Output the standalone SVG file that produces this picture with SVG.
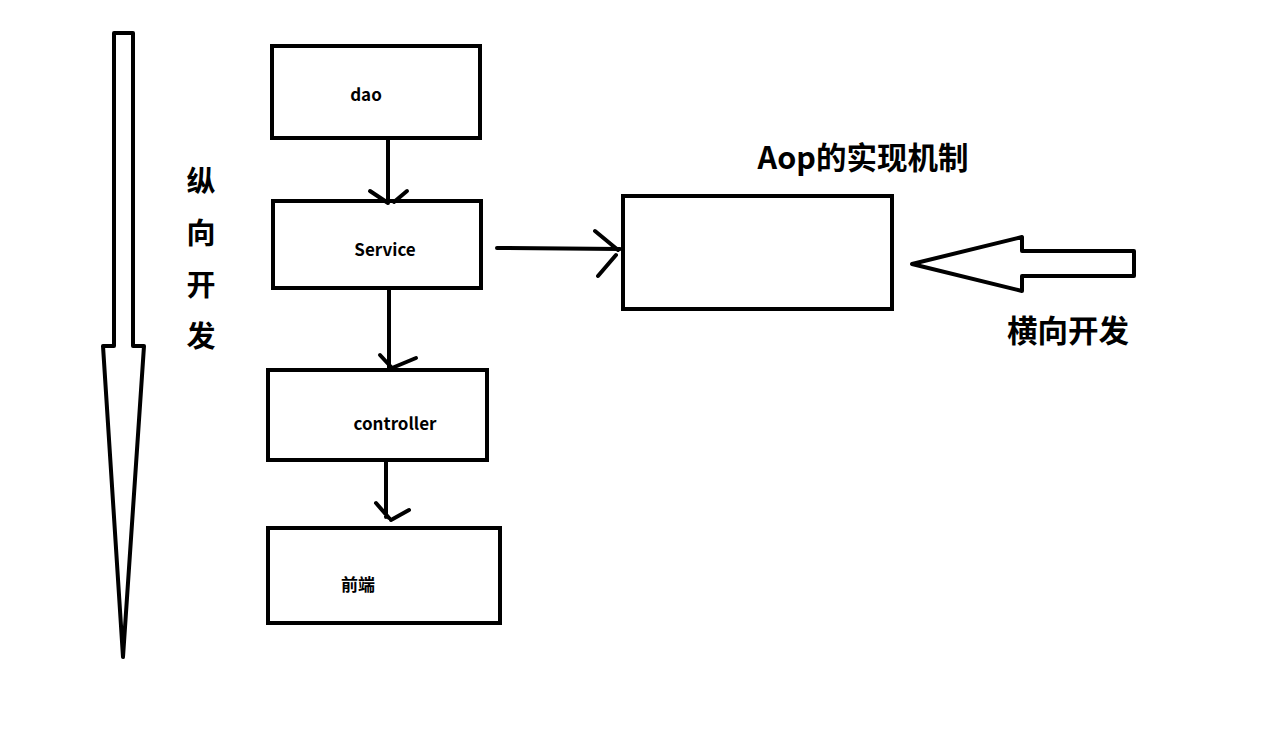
<svg xmlns="http://www.w3.org/2000/svg" width="1285" height="742" viewBox="0 0 1285 742">
<style>
.s{fill:none;stroke:#000;stroke-width:4;stroke-linecap:round;stroke-linejoin:round}
.b{fill:#fff;stroke:#000;stroke-width:4}
.t{font-family:"Noto Sans CJK SC","Noto Sans",sans-serif;font-weight:bold;fill:#000}
.l{font-size:17px}
.h{font-size:29px}
.a{font-size:30.5px}
</style>
<rect width="1285" height="742" fill="#fff"/>
<g id="vertical-arrow">
<polygon class="s" points="114,33 133,33 133,346 144,346 123,657 103,346 114,346"/>
</g>
<g id="vertical-label">
<text class="t h" x="201" y="192" text-anchor="middle">纵</text>
<text class="t h" x="201" y="244" text-anchor="middle">向</text>
<text class="t h" x="201" y="296" text-anchor="middle">开</text>
<text class="t h" x="201" y="347" text-anchor="middle">发</text>
</g>
<g id="dao">
<rect class="b" x="272" y="46" width="208" height="92"/>
<text class="t l" x="366" y="101" text-anchor="middle">dao</text>
</g>
<g id="service">
<rect class="b" x="273" y="201" width="208" height="87"/>
<text class="t l" x="385" y="256" text-anchor="middle">Service</text>
</g>
<g id="controller">
<rect class="b" x="268" y="370" width="219" height="90"/>
<text class="t l" x="395" y="430" text-anchor="middle">controller</text>
</g>
<g id="frontend">
<rect class="b" x="268" y="528" width="232" height="95"/>
<text class="t l" x="358" y="591" text-anchor="middle">前端</text>
</g>
<g id="aop">
<rect class="b" x="623" y="196" width="269" height="113"/>
<text class="t a" x="863" y="169" text-anchor="middle">Aop的实现机制</text>
</g>
<g id="horizontal-arrow">
<polygon class="s" points="912,264 1022,237 1022,251 1134,251 1134,276 1022,276 1022,291"/>
<text class="t a" x="1068" y="342" text-anchor="middle">横向开发</text>
</g>
<g id="connectors">
<path class="s" d="M388,140 V203 M370,191 L388,203 M407,191 L394,202"/>
<path class="s" d="M389,290 V368 M380,355 L392,368 M416,358 L392,368"/>
<path class="s" d="M386,462 V517 M376,503 L389,518 M409,510 L391,520"/>
<path class="s" d="M497,248 L620,249 M595,231 L618,250 M616,255 L598,276"/>
</g>
</svg>
